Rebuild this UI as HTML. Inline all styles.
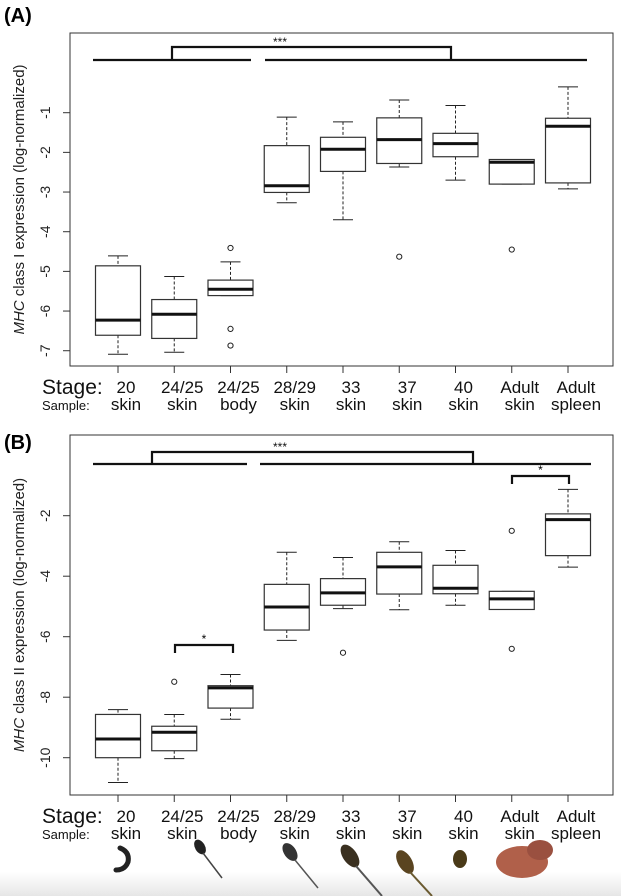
<!DOCTYPE html>
<html><head><meta charset="utf-8"><style>
body{margin:0;background:#fff;}
svg{display:block;font-family:"Liberation Sans",sans-serif;}
</style></head><body>
<svg id="chart" width="621" height="896">
<defs><linearGradient id="fade" x1="0" y1="0" x2="0" y2="1"><stop offset="0" stop-color="#fff"/><stop offset="1" stop-color="#e6e6e6"/></linearGradient></defs>
<rect x="0" y="872" width="621" height="24" fill="url(#fade)"/>
</svg>
<script>
const categories=["20","24/25","24/25","28/29","33","37","40","Adult","Adult"];
const samples=["skin","skin","body","skin","skin","skin","skin","skin","spleen"];
// [whiskerHigh, Q3, median, Q1, whiskerLow]
const statsA=[[-4.61,-4.86,-6.23,-6.61,-7.09],[-5.13,-5.71,-6.08,-6.69,-7.04],[-4.76,-5.22,-5.45,-5.61,-5.61],[-1.11,-1.83,-2.84,-3.01,-3.27],[-1.23,-1.62,-1.92,-2.48,-3.70],[-0.68,-1.13,-1.68,-2.28,-2.37],[-0.82,-1.52,-1.78,-2.11,-2.70],[-2.18,-2.18,-2.25,-2.80,-2.80],[-0.35,-1.14,-1.34,-2.77,-2.92]];
const outliersA=[[],[],[-4.41,-6.45,-6.87],[],[],[-4.63],[],[-4.45],[]];
const ticksA=[-1,-2,-3,-4,-5,-6,-7];
const statsB=[[-8.41,-8.57,-9.38,-10.0,-10.82],[-8.57,-8.96,-9.16,-9.77,-10.03],[-7.25,-7.62,-7.69,-8.36,-8.73],[-3.21,-4.27,-5.02,-5.78,-6.12],[-3.38,-4.08,-4.55,-4.96,-5.07],[-2.86,-3.21,-3.69,-4.59,-5.11],[-3.15,-3.64,-4.40,-4.58,-4.96],[-4.50,-4.50,-4.75,-5.10,-5.10],[-1.13,-1.94,-2.13,-3.32,-3.70]];
const outliersB=[[],[-7.49],[],[],[-6.53],[],[],[-2.50,-6.40],[]];
const ticksB=[-2,-4,-6,-8,-10];

const svg=document.getElementById('chart');
const NS='http://www.w3.org/2000/svg';
function mk(tag,attrs,parent){const e=document.createElementNS(NS,tag);for(const k in attrs)e.setAttribute(k,attrs[k]);(parent||svg).appendChild(e);return e;}
const xs=i=>118+i*56.25;

function panel(p){
  const g=mk('g',{});
  
  
  const y=v=>p.y0+(p.v0-v)*p.unit;
  const lab=mk('text',{x:4,y:p.labelY,'font-size':20,'font-weight':'bold'},g);lab.textContent='('+p.id+')';
  
  
  const fr=mk('rect',{x:70,y:p.top,width:543,height:p.bottom-p.top,fill:'none',stroke:'#333','stroke-width':1},g);
  
  
  p.ticks.forEach(t=>{
    mk('line',{x1:63,x2:70,y1:y(t),y2:y(t),stroke:'#333'},g);
    const tx=mk('text',{x:50,y:y(t),'font-size':14,'text-anchor':'middle',transform:`rotate(-90 50 ${y(t)})`,fill:'#222'},g);
    tx.textContent=t;
    
    
  });
  const mid=(p.top+p.bottom)/2;
  const yt=mk('text',{x:24,y:mid,'font-size':15,'text-anchor':'middle',transform:`rotate(-90 24 ${mid})`,fill:'#222'},g);
  yt.innerHTML='<tspan font-style="italic">MHC</tspan> class '+p.cls+' expression (log-normalized)';
  
  
  p.stats.forEach((s,i)=>{
    const cx=xs(i),bw=22.5;
    const b=mk('g',{},g);
    
    
    mk('line',{x1:cx,x2:cx,y1:y(s[0]),y2:y(s[1]),stroke:'#222','stroke-dasharray':'3,2'},b);
    mk('line',{x1:cx,x2:cx,y1:y(s[3]),y2:y(s[4]),stroke:'#222','stroke-dasharray':'3,2'},b);
    mk('line',{x1:cx-10,x2:cx+10,y1:y(s[0]),y2:y(s[0]),stroke:'#222'},b);
    mk('line',{x1:cx-10,x2:cx+10,y1:y(s[4]),y2:y(s[4]),stroke:'#222'},b);
    mk('rect',{x:cx-bw,y:y(s[1]),width:bw*2,height:y(s[3])-y(s[1]),fill:'#fff',stroke:'#333','stroke-width':1.2},b);
    mk('line',{x1:cx-bw,x2:cx+bw,y1:y(s[2]),y2:y(s[2]),stroke:'#111','stroke-width':3},b);
    p.outliers[i].forEach(o=>{mk('circle',{cx:cx,cy:y(o),r:2.6,fill:'none',stroke:'#222','stroke-width':1},b);});
    mk('line',{x1:cx,x2:cx,y1:p.bottom,y2:p.bottom+7,stroke:'#333'},g);
    const c=mk('text',{x:cx+8,y:p.bottom+27,'font-size':17,'text-anchor':'middle',fill:'#111'},g);c.textContent=categories[i];
    
    
    const sm=mk('text',{x:cx+8,y:p.bottom+44,'font-size':17,'text-anchor':'middle',fill:'#111'},g);sm.textContent=samples[i];
    
    
  });
  const st=mk('text',{x:42,y:p.bottom+28,'font-size':21,fill:'#111'},g);st.textContent='Stage:';
  
  
  const sa=mk('text',{x:42,y:p.bottom+44,'font-size':13,fill:'#111'},g);sa.textContent='Sample:';
  
  
  // significance
  const s=p.sig;
  mk('line',{x1:93,x2:s.lx2,y1:s.low,y2:s.low,stroke:'#111','stroke-width':2.2},g);
  mk('line',{x1:s.rx1,x2:s.rx2,y1:s.low,y2:s.low,stroke:'#111','stroke-width':2.2},g);
  mk('polyline',{points:`${s.b1},${s.low} ${s.b1},${s.high} ${s.b2},${s.high} ${s.b2},${s.low}`,fill:'none',stroke:'#111','stroke-width':2.2},g);
  const sx=mk('text',{x:280,y:s.high-1,'font-size':12,'text-anchor':'middle',fill:'#111'},g);sx.textContent='***';
  
  
  (s.small||[]).forEach(b=>{
    mk('polyline',{points:`${b[0]},${b[2]+8} ${b[0]},${b[2]} ${b[1]},${b[2]} ${b[1]},${b[2]+8}`,fill:'none',stroke:'#111','stroke-width':2.2},g);
    const t=mk('text',{x:(b[0]+b[1])/2,y:b[2]-2,'font-size':12,'text-anchor':'middle'},g);t.textContent='*';
    
    
  });
}
panel({id:'A',cls:'I',labelY:22,top:33,bottom:366,y0:112.7,v0:-1,unit:39.67,ticks:ticksA,stats:statsA,outliers:outliersA,
  sig:{low:60,high:47,lx2:251,rx1:265,rx2:587,b1:172,b2:451}});
panel({id:'B',cls:'II',labelY:449,top:435,bottom:795,y0:515.7,v0:-2,unit:30.25,ticks:ticksB,stats:statsB,outliers:outliersB,
  sig:{low:464,high:452,lx2:247,rx1:260,rx2:591,b1:152,b2:473,small:[[175,233,645],[512,569,476]]}});
// animal silhouettes
const an=mk('g',{});


mk('path',{d:'M120 848 q10 4 8 14 q-3 8 -12 8',fill:'none',stroke:'#222','stroke-width':5,'stroke-linecap':'round'},an);
mk('ellipse',{cx:200,cy:847,rx:5,ry:8,fill:'#222',transform:'rotate(-30 200 847)'},an);
mk('line',{x1:203,y1:853,x2:222,y2:878,stroke:'#444','stroke-width':1.5},an);
mk('ellipse',{cx:290,cy:852,rx:6,ry:10,fill:'#333',transform:'rotate(-35 290 852)'},an);
mk('line',{x1:295,y1:860,x2:318,y2:888,stroke:'#555','stroke-width':1.5},an);
mk('ellipse',{cx:350,cy:856,rx:7,ry:13,fill:'#3a3020',transform:'rotate(-35 350 856)'},an);
mk('line',{x1:356,y1:866,x2:382,y2:896,stroke:'#555','stroke-width':2},an);
mk('ellipse',{cx:405,cy:862,rx:7,ry:13,fill:'#5a4420',transform:'rotate(-30 405 862)'},an);
mk('line',{x1:410,y1:872,x2:432,y2:896,stroke:'#6a5a30','stroke-width':2},an);
mk('ellipse',{cx:460,cy:859,rx:7,ry:9,fill:'#4a3a18'},an);
mk('ellipse',{cx:522,cy:862,rx:26,ry:16,fill:'#b0604a'},an);
mk('ellipse',{cx:540,cy:850,rx:13,ry:10,fill:'#9a5040'},an);
</script>
</body></html>
